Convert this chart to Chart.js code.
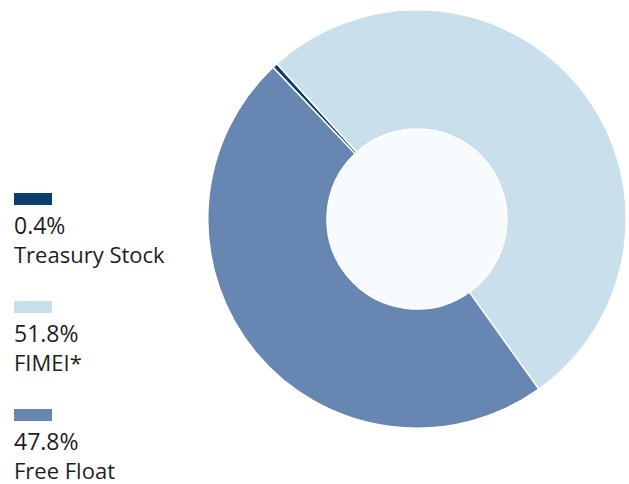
<!DOCTYPE html>
<html>
<head>
<meta charset="utf-8">
<script src="https://cdn.jsdelivr.net/npm/chart.js@4/dist/chart.umd.min.js"></script>
<style>
  body { margin: 0; background: #fff; font-family: "Open Sans", sans-serif; }
  #wrap { position: relative; width: 629px; height: 484px; }
  #chartBox { position: absolute; left: 207px; top: 9px; width: 420px; height: 420px; }
  .item { position: absolute; left: 14px; color: #1e1e1e; font-weight: 400; }
  .swatch { width: 38px; height: 12px; }
  .val { font-size: 23px; line-height: 29px; margin-top: 6px; }
  .lbl { font-size: 22px; line-height: 28px; }
</style>
</head>
<body>
<div id="wrap">
  <div id="legend"></div>
  <div id="chartBox"><canvas id="shareChart"></canvas></div>
</div>
<script>
const labels = ["Treasury Stock", "FIMEI*", "Free Float"];
const shares = [0.4, 51.8, 47.8];
const colors = ["#0b3d70", "#c9dfeb", "#6886b2"];

// legend built by hand, one block per slice
const legendBox = document.getElementById("legend");
labels.forEach((name, i) => {
    const item = document.createElement("div");
    item.className = "item";
    item.style.top = (193 + i * 108) + "px";
    item.innerHTML = '<div class="swatch" style="background:' + colors[i] + '"></div>' +
        '<div class="val">' + shares[i].toFixed(1) + '%</div>' +
        '<div class="lbl">' + name + '</div>';
    legendBox.appendChild(item);
});

// fills the hole in the middle with a pale tint
const holeFill = {
    id: 'holeFill',
    beforeDatasetsDraw(chart) {
        const arc = chart.getDatasetMeta(0).data[0];
        if (!arc) return;
        const ctx = chart.ctx;
        ctx.save();
        ctx.beginPath();
        ctx.arc(arc.x, arc.y, arc.innerRadius, 0, Math.PI * 2);
        ctx.fillStyle = '#f8fbfe';
        ctx.fill();
        ctx.restore();
    }
};

new Chart(document.getElementById("shareChart"), {
    type: 'doughnut',
    data: {
        labels: labels,
        datasets: [{
            data: shares,
            backgroundColor: colors,
            borderColor: '#ffffff',
            borderWidth: 1.5
        }]
    },
    options: {
        responsive: true,
        maintainAspectRatio: false,
        animation: false,
        cutout: '43%',
        rotation: -43.5,
        plugins: {
            legend: { display: false },
            tooltip: { enabled: false }
        }
    },
    plugins: [holeFill]
});
</script>
</body>
</html>
